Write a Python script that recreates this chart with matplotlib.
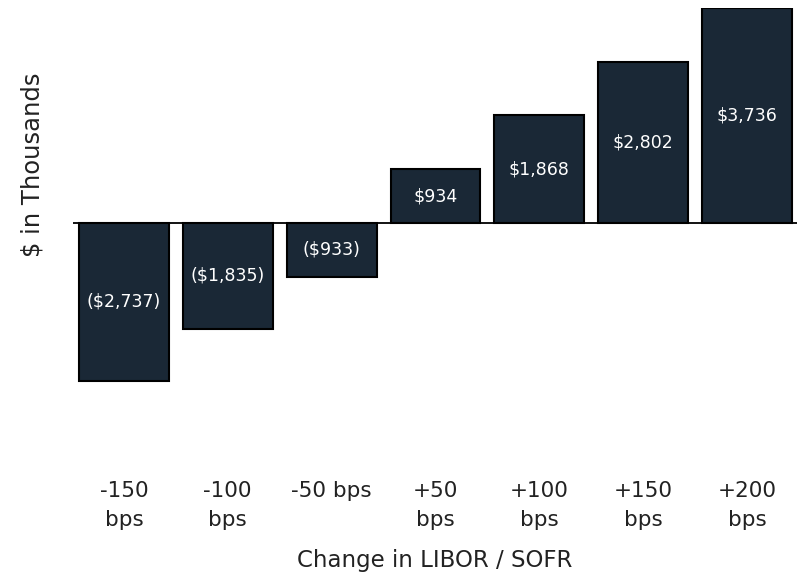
import matplotlib.pyplot as plt
import numpy as np

# Datos del grafico
escenarios = ['-150\nbps', '-100\nbps', '-50 bps', '+50\nbps', '+100\nbps', '+150\nbps', '+200\nbps']
valores = [-2737, -1835, -933, 934, 1868, 2802, 3736]
etiquetas = ['($2,737)', '($1,835)', '($933)', '$934', '$1,868', '$2,802', '$3,736']

plt.rcParams['font.family'] = ['DejaVu Sans']

fig = plt.figure(figsize=(8.02, 5.75), dpi=100)
ax = fig.add_axes([0.091, 0.183, 0.9027, 0.8035])

x = np.arange(len(valores))
barras = ax.bar(x, valores, width=0.865, color='#1a2836', edgecolor='black', lw=1.5, zorder=2)
ax.axhline(0, color='black', lw=1.3, zorder=3)

for b, txt in zip(barras, etiquetas):
    ax.text(b.get_x() + b.get_width() / 2, b.get_height() / 2, txt,
            ha='center', va='center', color='white', fontsize=12.5, zorder=4)

ax.set_xlim(-0.49, 6.48)
ax.set_ylim(-4285, 3736)
ax.set_xticks(x)
ax.set_xticklabels(escenarios, fontsize=15.5, linespacing=1.6, color='#222222')
ax.tick_params(axis='x', length=0, pad=8)
ax.set_yticks([])
for s in ax.spines.values():
    s.set_visible(False)

ax.set_xlabel('Change in LIBOR / SOFR', fontsize=16.5, labelpad=13, color='#222222')
fig.text(33 / 802, 1 - 165 / 575, '$ in Thousands', rotation=90, ha='center', va='center',
         fontsize=17.5, color='#222222')

plt.savefig('out.png', dpi=100)
